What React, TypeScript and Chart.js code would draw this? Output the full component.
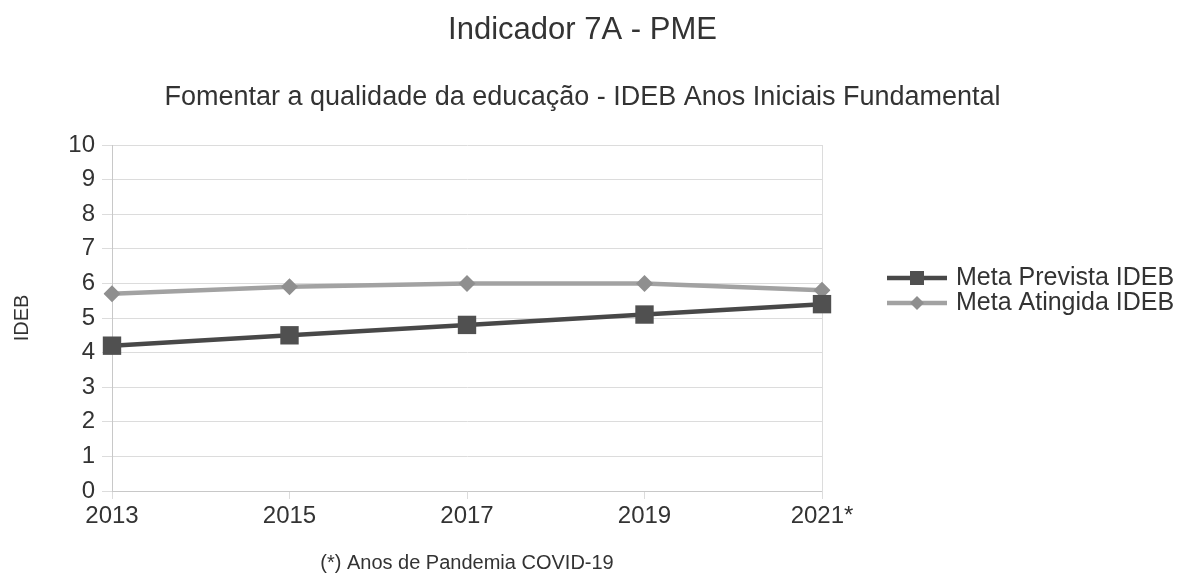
import React, { useEffect, useRef } from "react";
import { Chart, registerables } from "chart.js";

Chart.register(...registerables);

// IDEB - anos iniciais do ensino fundamental
const anos = ["2013", "2015", "2017", "2019", "2021*"];
const metaPrevista = [4.2, 4.5, 4.8, 5.1, 5.4];
const metaAtingida = [5.7, 5.9, 6.0, 6.0, 5.8];
const seriesNames = ["Meta Prevista IDEB", "Meta Atingida IDEB"];
const yMin = 0;
const yMax = 10;
const yStep = 1;

const FONT = '"Liberation Sans", Arial, Helvetica, sans-serif';
const TEXT = "#333333";
const GRID = "#dcdcdc";

// Legend drawn to the right of the plot: a short line with the series marker in the middle.
const sideLegend = {
  id: "sideLegend",
  afterDraw(chart: any) {
    const { ctx, chartArea, height } = chart;
    const datasets = chart.data.datasets;
    const rowH = 25;
    const x0 = chartArea.right + 65;
    const lineLen = 60;
    const startY = height / 2 - ((datasets.length - 1) * rowH) / 2;
    ctx.save();
    datasets.forEach((ds: any, i: number) => {
      const y = startY + i * rowH;
      ctx.strokeStyle = ds.borderColor;
      ctx.lineWidth = ds.borderWidth;
      ctx.beginPath();
      ctx.moveTo(x0, y);
      ctx.lineTo(x0 + lineLen, y);
      ctx.stroke();
      const cx = x0 + lineLen / 2;
      ctx.fillStyle = ds.pointBackgroundColor;
      ctx.beginPath();
      if (ds.pointStyle === "rect") {
        const s = 7;
        ctx.rect(cx - s, y - s, 2 * s, 2 * s);
      } else {
        const r = 7;
        ctx.moveTo(cx, y - r);
        ctx.lineTo(cx + r, y);
        ctx.lineTo(cx, y + r);
        ctx.lineTo(cx - r, y);
        ctx.closePath();
      }
      ctx.fill();
      ctx.fillStyle = TEXT;
      ctx.font = `25px ${FONT}`;
      ctx.textAlign = "left";
      ctx.textBaseline = "middle";
      ctx.fillText(ds.label, x0 + lineLen + 9, y);
    });
    ctx.restore();
  },
};

export default function App() {
  const canvasRef = useRef<HTMLCanvasElement | null>(null);

  useEffect(() => {
    const canvas = canvasRef.current;
    if (!canvas) return;
    Chart.defaults.font.family = FONT;
    Chart.defaults.color = TEXT;

    const chart = new Chart(canvas, {
      type: "line",
      data: {
        labels: anos,
        datasets: [
          {
            label: seriesNames[0],
            data: metaPrevista,
            borderColor: "#484848",
            borderWidth: 4.5,
            pointStyle: "rect",
            pointRadius: 13,
            pointBorderWidth: 0,
            pointBackgroundColor: "#505050",
            pointBorderColor: "#505050",
            tension: 0,
          },
          {
            label: seriesNames[1],
            data: metaAtingida,
            borderColor: "#a2a2a2",
            borderWidth: 4.5,
            pointStyle: "rectRot",
            pointRadius: 8.5,
            pointBorderWidth: 0,
            pointBackgroundColor: "#8f8f8f",
            pointBorderColor: "#8f8f8f",
            tension: 0,
          },
        ],
      },
      options: {
        responsive: false,
        animation: false,
        events: [],
        layout: { padding: { top: 0, left: 0, right: 20, bottom: 0 } },
        plugins: {
          legend: { display: false },
          tooltip: { enabled: false },
          title: {
            display: true,
            text: "Indicador 7A - PME",
            color: TEXT,
            font: { size: 31, weight: "normal", lineHeight: 1.2 },
            padding: { top: 12, bottom: 32.6 },
          },
          subtitle: {
            display: true,
            text: "Fomentar a qualidade da educação - IDEB Anos Iniciais Fundamental",
            color: TEXT,
            font: { size: 27, weight: "normal", lineHeight: 1.2 },
            padding: { top: 0, bottom: 30.8 },
          },
        },
        scales: {
          x: {
            type: "category",
            offset: false,
            grid: { color: GRID, lineWidth: 1, tickLength: 8, drawOnChartArea: false, drawTicks: true },
            border: { color: "#c8c8c8", width: 1 },
            ticks: {
              color: TEXT,
              font: { size: 24, lineHeight: 1.2 },
              padding: 3,
              maxRotation: 0,
              autoSkip: false,
            },
            title: {
              display: true,
              text: "(*) Anos de Pandemia COVID-19",
              color: TEXT,
              font: { size: 20, lineHeight: 1.2 },
              padding: { top: 17.2, bottom: 6 },
            },
          },
          y: {
            min: yMin,
            max: yMax,
            position: "left",
            grid: { color: GRID, lineWidth: 1, tickLength: 10 },
            border: { color: "#c8c8c8", width: 1 },
            ticks: {
              stepSize: yStep,
              color: TEXT,
              font: { size: 24, lineHeight: 1.2 },
              padding: 7,
            },
            title: {
              display: true,
              text: "IDEB",
              color: TEXT,
              font: { size: 20, lineHeight: 1.2 },
              padding: { top: 10, bottom: 0 },
            },
            afterFit: (scale: any) => {
              scale.width = 112;
            },
          },
          // empty scale that keeps room for the legend and closes the plot on the right
          legendSpace: {
            type: "linear",
            position: "right",
            display: true,
            grid: { display: false, drawOnChartArea: false },
            border: { display: true, color: GRID, width: 1 },
            ticks: { display: false },
            afterFit: (scale: any) => {
              scale.width = 343;
            },
          },
        },
      },
      plugins: [sideLegend],
    } as any);

    return () => chart.destroy();
  }, []);

  return (
    <div style={{ position: "fixed", left: 0, top: 0, width: 1185, height: 581, background: "#fff" }}>
      <canvas ref={canvasRef} width={1185} height={581} />
    </div>
  );
}
